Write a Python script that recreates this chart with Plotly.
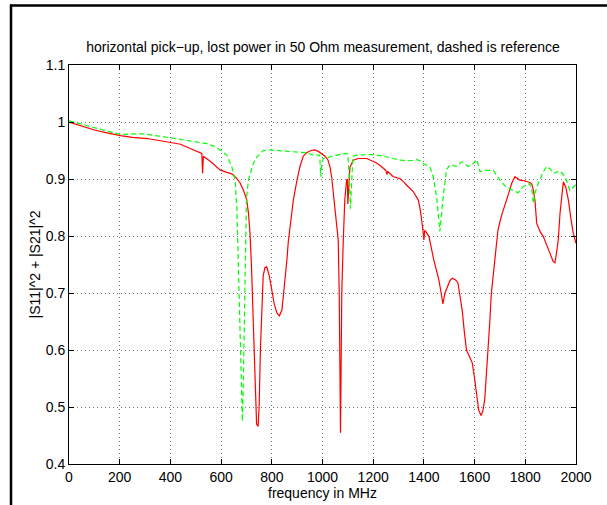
import plotly.graph_objects as go

title_text = "horizontal pick\u2212up, lost power in 50 Ohm measurement, dashed is reference"
x_label = "frequency in MHz"
y_label = "|S11|^2 + |S21|^2"

x_ticks = [0, 200, 400, 600, 800, 1000, 1200, 1400, 1600, 1800, 2000]
x_ticktext = ["0", "200", "400", "600", "800", "1000", "1200", "1400", "1600", "1800", "2000"]
y_ticks = [0.4, 0.5, 0.6, 0.7, 0.8, 0.9, 1.0, 1.1]
y_ticktext = ["0.4", "0.5", "0.6", "0.7", "0.8", "0.9", "1", "1.1"]

# measured (red, solid)
meas_f = [0, 50, 100, 150, 203, 250, 308, 350, 400, 440, 480, 518, 524, 527, 530, 557, 596, 620,
          642, 660, 675, 690, 701, 708, 714, 720, 726, 730, 735, 740, 746, 750, 755, 760, 766, 773,
          780, 790, 800, 810, 820, 830, 840, 850, 860, 865, 875, 885, 898, 911, 924, 937, 955, 970,
          985, 996, 1010, 1022, 1030, 1036, 1043, 1049, 1056, 1062, 1066, 1069, 1071, 1073, 1076,
          1082, 1088, 1095, 1098, 1100, 1102, 1105, 1108, 1121, 1141, 1174, 1193, 1210, 1226, 1250,
          1254, 1258, 1279, 1305, 1320, 1332, 1358, 1370, 1378, 1386, 1391, 1395, 1400, 1403, 1407,
          1420, 1439, 1459, 1468, 1475, 1483, 1492, 1503, 1512, 1525, 1534, 1543, 1551, 1560, 1568,
          1580, 1591, 1600, 1608, 1616, 1625, 1632, 1640, 1646, 1653, 1660, 1666, 1679, 1692, 1700,
          1707, 1726, 1746, 1759, 1770, 1779, 1805, 1825, 1832, 1838, 1845, 1858, 1871, 1885, 1897,
          1910, 1917, 1923, 1930, 1937, 1943, 1950, 1960, 1970, 1980, 1989, 2000]
meas_p = [1.000, 0.993, 0.986, 0.981, 0.976, 0.973, 0.971, 0.968, 0.964, 0.961, 0.953, 0.945, 0.945,
          0.910, 0.940, 0.931, 0.916, 0.912, 0.909, 0.902, 0.893, 0.878, 0.864, 0.840, 0.805, 0.745,
          0.660, 0.580, 0.510, 0.470, 0.466, 0.500, 0.600, 0.680, 0.730, 0.745, 0.746, 0.730, 0.705,
          0.680, 0.665, 0.660, 0.670, 0.710, 0.760, 0.790, 0.830, 0.863, 0.895, 0.922, 0.940, 0.946,
          0.950, 0.951, 0.948, 0.945, 0.940, 0.933, 0.920, 0.904, 0.875, 0.846, 0.815, 0.793, 0.700,
          0.550, 0.455, 0.550, 0.700, 0.793, 0.864, 0.898, 0.900, 0.856, 0.870, 0.905, 0.920, 0.933,
          0.936, 0.936, 0.933, 0.929, 0.924, 0.915, 0.908, 0.913, 0.904, 0.901, 0.895, 0.889, 0.878,
          0.870, 0.863, 0.845, 0.830, 0.815, 0.793, 0.810, 0.808, 0.799, 0.758, 0.723, 0.700, 0.681,
          0.700, 0.710, 0.722, 0.726, 0.723, 0.718, 0.695, 0.670, 0.630, 0.600, 0.588, 0.577, 0.550,
          0.518, 0.495, 0.485, 0.492, 0.513, 0.550, 0.600, 0.650, 0.699, 0.755, 0.810, 0.825, 0.837,
          0.863, 0.892, 0.904, 0.900, 0.898, 0.896, 0.892, 0.880, 0.863, 0.822, 0.808, 0.799, 0.785,
          0.770, 0.755, 0.753, 0.770, 0.793, 0.840, 0.870, 0.895, 0.885, 0.863, 0.830, 0.805, 0.787]

# reference (green, dashed)
ref_f = [0, 50, 98, 150, 203, 250, 295, 360, 413, 450, 492, 544, 575, 596, 622, 642, 655, 662, 668,
         673, 678, 684, 688, 692, 696, 700, 708, 718, 728, 740, 754, 767, 790, 819, 850, 885, 912,
         937, 963, 989, 993, 997, 1003, 1042, 1088, 1100, 1106, 1110, 1114, 1120, 1134, 1200, 1253,
         1305, 1345, 1371, 1385, 1397, 1424, 1437, 1450, 1457, 1463, 1468, 1476, 1489, 1503, 1529,
         1549, 1575, 1595, 1608, 1615, 1621, 1641, 1674, 1700, 1726, 1753, 1772, 1792, 1818, 1826,
         1832, 1838, 1851, 1868, 1884, 1897, 1911, 1937, 1957, 1976, 1996, 2000]
ref_p = [1.002, 0.996, 0.990, 0.984, 0.978, 0.979, 0.979, 0.975, 0.971, 0.968, 0.966, 0.962, 0.957,
         0.951, 0.942, 0.922, 0.899, 0.850, 0.750, 0.650, 0.550, 0.475, 0.550, 0.680, 0.800, 0.865,
         0.899, 0.915, 0.928, 0.938, 0.945, 0.950, 0.951, 0.950, 0.948, 0.947, 0.946, 0.946, 0.942,
         0.942, 0.904, 0.925, 0.936, 0.940, 0.945, 0.944, 0.900, 0.848, 0.880, 0.940, 0.942, 0.943,
         0.939, 0.933, 0.932, 0.934, 0.932, 0.927, 0.921, 0.904, 0.869, 0.840, 0.808, 0.830, 0.869,
         0.916, 0.925, 0.922, 0.930, 0.922, 0.927, 0.934, 0.925, 0.913, 0.915, 0.915, 0.898, 0.885,
         0.880, 0.876, 0.887, 0.892, 0.880, 0.857, 0.875, 0.892, 0.910, 0.922, 0.918, 0.910, 0.914,
         0.904, 0.880, 0.889, 0.890]

FONT = "Liberation Sans, Arial, Helvetica, sans-serif"
FS = 14

fig = go.Figure()
fig.add_trace(go.Scatter(x=meas_f, y=meas_p, mode="lines",
                         line=dict(color="#ff0000", width=1.2), showlegend=False))
fig.add_trace(go.Scatter(x=ref_f, y=ref_p, mode="lines",
                         line=dict(color="#00ff00", width=1.2, dash="5px,3px"), showlegend=False))

# plot area in pixels: x 69..576, y 65..464
L, R, T, B = 69, 576, 65, 464
W, H = 607, 505
pw, ph = R - L, B - T

def px(xp):
    return (xp - L) / pw

def py(yp):
    return (B - yp) / ph

axis_common = dict(showline=True, linecolor="black", linewidth=1, mirror="ticks",
                   ticks="inside", ticklen=5, tickcolor="black", showgrid=True,
                   gridcolor="#7a7a7a", griddash="1px,3px", gridwidth=1, zeroline=False,
                   tickfont=dict(family=FONT, size=FS, color="black"), automargin=False)

fig.update_xaxes(range=[0, 2000], tickvals=x_ticks, ticktext=x_ticktext, **axis_common)
fig.update_yaxes(range=[0.4, 1.1], tickvals=y_ticks, ticktext=y_ticktext, **axis_common)

fig.update_layout(
    width=W, height=H,
    margin=dict(l=L, r=W - R, t=T, b=H - B, pad=0),
    plot_bgcolor="white", paper_bgcolor="white",
    font=dict(family=FONT, size=FS, color="black"),
    title=dict(text=title_text, x=px(323), xref="paper", xanchor="center",
               y=1 - 47 / H, yref="container", yanchor="middle",
               font=dict(family=FONT, size=FS, color="black")),
    annotations=[
        dict(text=x_label, xref="paper", yref="paper", x=0.5, y=py(493),
             xanchor="center", yanchor="middle", showarrow=False,
             font=dict(family=FONT, size=FS, color="black")),
        dict(text=y_label, xref="paper", yref="paper", x=px(34), y=0.5,
             xanchor="center", yanchor="middle", textangle=-90, showarrow=False,
             font=dict(family=FONT, size=FS, color="black")),
    ],
    shapes=[
        dict(type="line", xref="paper", yref="paper", x0=px(10), x1=px(607),
             y0=py(5.5), y1=py(5.5), line=dict(color="black", width=2.5)),
        dict(type="line", xref="paper", yref="paper", x0=px(11), x1=px(11),
             y0=py(4.5), y1=py(505), line=dict(color="black", width=2.5)),
    ],
)

fig.write_html("out.html", config={"displayModeBar": False},
               post_script="document.body.style.margin='0';document.body.style.overflow='hidden';")
